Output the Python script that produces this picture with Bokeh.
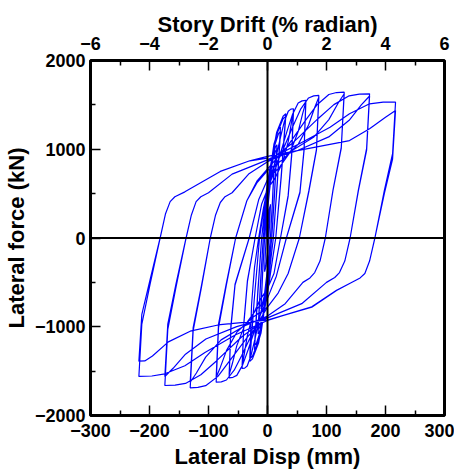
from bokeh.plotting import figure
from bokeh.models import LinearAxis, Range1d, FixedTicker, Span, ColumnDataSource
from bokeh.embed import file_html
from bokeh.resources import INLINE

# ---- data (lateral displacement in mm, lateral force in kN) ----
lvlA_disp = [0, 2.5, 5, 3.8, 2.2, 0, -2.5, -5, -3.8, -2.2, 0, 2.5, 5, 3.8, 2.2, 0, -2.5, -5]
lvlA_force = [0, 200, 380, 190, 0, -170, -320, -380, -190, 0, 170, 320, 370, 185, 0, -165, -315, -375]

lvlB_disp = [-3.75, -2.2, 0, 5.5, 9.4, 11, 8.25, 4.95, 0, -5.5, -9.35, -11, -8.25, -4.95, 0, 5.5, 9.35, 11, 8.25, 4.95, 0, -5.5, -9.35, -11]
lvlB_force = [-190, 0, 300, 680, 785, 800, 400, 0, -360, -680, -784, -800, -400, 0, 342, 646, 745, 760, 380, 0, -346, -655, -755, -770]

lvlC_disp = [-8.25, -4.95, 0, 8, 13.6, 16, 12, 7.2, 0, -8, -13.6, -16, -12, -7.2, 0, 8, 13.6, 16, 12, 7.2, 0, -8, -13.6, -16]
lvlC_force = [-385, 0, 450, 890, 1030, 1050, 525, 0, -486, -918, -1058, -1080, -540, 0, 450, 850, 980, 1000, 500, 0, -464, -876, -1009, -1030]

lvlD_disp = [-12, -7.2, 0, 11, 18.7, 22, 16.5, 9.9, 0, -11, -18.7, -22, -16.5, -9.9, 0, 11, 18.7, 22, 16.5, 9.9, 0, -11, -18.7, -22]
lvlD_force = [-515, 0, 560, 1060, 1225, 1250, 625, 0, -567, -1071, -1235, -1260, -630, 0, 540, 1020, 1176, 1200, 600, 0, -545, -1028, -1186, -1210]

lvlE_disp = [-16.5, -9.9, 0, 15.5, 26.4, 31, 23.25, 14, 0, -15, -25.5, -30, -22.5, -13.5, 0, 15.5, 26.4, 31, 23.25, 14, 0, -15, -25.5, -30]
lvlE_force = [-605, 0, 630, 1190, 1372, 1400, 700, 0, -625, -1180, -1362, -1390, -695, 0, 616, 1165, 1343, 1370, 685, 0, -612, -1156, -1333, -1360]

lvlF_disp = [-27, -22, -15, -7, 0,
             11, 22, 28.6, 35.2, 39.6, 44,
             41, 35, 22, 11, 0,
             -10.75, -21.5, -28, -34.4, -38.7, -43,
             -40, -34, -21, -10, 0,
             13.2, 26.4, 35.2, 40.5, 44,
             41, 35, 22, 11, 0,
             -12.9, -25.8, -34.4, -39.6, -43]
lvlF_force = [-750, -330, 0, 330, 560,
              811, 1133, 1313, 1429, 1452, 1456,
              950, 480, 0, -400, -570,
              -822, -1146, -1326, -1443, -1466, -1470,
              -960, -490, 0, 380, 550,
              680, 863, 1089, 1298, 1420,
              930, 470, 0, -400, -570,
              -700, -882, -1108, -1316, -1437]

lvlG_disp = [-40, -34, -21, -10, 0,
             16.25, 32.5, 42.25, 52, 58.5, 65,
             62, 55, 32, 15, 0,
             -16.25, -32.5, -42.25, -52, -58.5, -65,
             -62, -55, -31, -15, 0,
             19.5, 39, 52, 59.8, 65,
             62, 55, 32, 15, 0,
             -19.5, -39, -52, -59.8, -65]
lvlG_force = [-950, -480, 0, 380, 550,
              830, 1190, 1390, 1520, 1545, 1550,
              1000, 520, 0, -430, -680,
              -931, -1253, -1432, -1548, -1570, -1575,
              -1010, -530, 0, 430, 660,
              790, 973, 1199, 1408, 1530,
              990, 510, 0, -430, -680,
              -809, -990, -1213, -1420, -1540]

lvlH_disp = [-62, -55, -31, -15, 0,
             21.75, 43.5, 56.5, 69.6, 78.3, 87,
             83, 70, 54, 35, 18, 0,
             -21.75, -43.5, -56.5, -69.6, -78.3, -87,
             -83, -70, -54, -35, -18, 0,
             26.1, 52.2, 69.6, 80, 87,
             83, 70, 54, 35, 18, 0,
             -26.1, -52.2, -69.6, -80, -87]
lvlH_force = [-990, -520, 0, 430, 660,
              925, 1265, 1455, 1578, 1601, 1606,
              1000, 530, 0, -400, -620, -780,
              -1017, -1321, -1490, -1600, -1621, -1625,
              -1010, -540, 0, 420, 620, 760,
              884, 1058, 1273, 1471, 1587,
              990, 520, 0, -400, -620, -780,
              -898, -1064, -1269, -1458, -1568]

lvlI_disp = [-83, -70, -54, -35, -18, 0,
             32.5, 65, 84.5, 104, 117, 130,
             125, 111, 98, 89, 80, 72, 60, 30, 0,
             -32.75, -65.5, -84, -104.8, -118, -131,
             -126, -112, -97, -88, -80, -72, -60, -32, 0,
             39, 78, 104, 119.6, 130,
             125, 111, 98, 89, 80, 72, 60, 30, 0,
             -39.3, -78.6, -104.8, -120.5, -131]
lvlI_force = [-970, -520, 0, 420, 640, 780,
              1022, 1332, 1505, 1617, 1639, 1643,
              1020, 540, 0, -260, -390, -450, -500, -740, -880,
              -1106, -1397, -1559, -1664, -1684, -1688,
              -1045, -557, 0, 260, 400, 465, 510, 720, 860,
              975, 1135, 1334, 1518, 1625,
              1010, 536, 0, -260, -390, -450, -500, -740, -880,
              -992, -1148, -1342, -1521, -1625]

lvlJ_disp = [-126, -112, -97, -88, -80, -72, -60, -32, 0,
             43.25, 86.5, 112.5, 138.4, 155.7, 173,
             168, 154, 140, 131, 122, 114, 100, 58, 0,
             -43.5, -87, -113, -139, -156.6, -174,
             -169, -155, -138, -129, -121, -113, -100, -60, 0,
             51.9, 103.8, 138.4, 159, 173,
             168, 154, 140, 131, 122, 114, 100, 58, 0,
             -52.2, -104.4, -139, -160, -174]
lvlJ_force = [-1010, -540, 0, 260, 400, 465, 510, 720, 860,
              1074, 1350, 1503, 1602, 1621, 1625,
              1010, 540, 0, -260, -390, -445, -500, -740, -900,
              -1113, -1388, -1540, -1639, -1658, -1662,
              -1030, -550, 0, 260, 410, 465, 510, 720, 880,
              988, 1139, 1326, 1499, 1600,
              990, 530, 0, -260, -390, -445, -500, -740, -900,
              -999, -1138, -1309, -1468, -1560]

lvlK_disp = [-169, -155, -138, -129, -121, -113, -100, -60, 0,
             54, 106, 139, 173, 196, 217,
             212, 198, 182, 173, 165, 157, 140, 117, 75, 27, 0,
             -54, -106, -140, -174, -196, -218,
             -213, -199, -182, -173, -165, -157, -140, -80, -30, 0,
             66, 139, 173, 200, 217,
             212, 198, 182, 173, 165, 157, 140, 117, 75, 27, 0,
             -80, -131, -168, -195, -208, -218,
             -213, -199, -182, -173, -165, -157, -140, -80, -30, 0]
lvlK_force = [-970, -515, 0, 260, 410, 465, 510, 720, 880,
              1062, 1248, 1400, 1512, 1530, 1530,
              950, 535, 0, -260, -400, -450, -510, -591, -779, -873, -930,
              -1090, -1290, -1440, -1530, -1555, -1560,
              -970, -520, 0, 270, 410, 465, 520, 750, 870, 920,
              1005, 1098, 1230, 1360, 1437,
              890, 500, 0, -260, -400, -450, -510, -590, -775, -870, -925,
              -975, -1050, -1170, -1330, -1385, -1388,
              -860, -470, 0, 270, 410, 465, 520, 750, 870, 900]

disp_ticks = [-300, -200, -100, 0, 100, 200, 300]
disp_minor = [-250, -150, -50, 50, 150, 250]
force_ticks = [-2000, -1000, 0, 1000, 2000]
force_minor = [-1500, -500, 500, 1500]
drift_ticks = [-6, -4, -2, 0, 2, 4, 6]
drift_minor = [-5, -3, -1, 1, 3, 5]

disp_all = (lvlA_disp + lvlB_disp + lvlC_disp + lvlD_disp + lvlE_disp + lvlF_disp
            + lvlG_disp + lvlH_disp + lvlI_disp + lvlJ_disp + lvlK_disp)
force_all = (lvlA_force + lvlB_force + lvlC_force + lvlD_force + lvlE_force + lvlF_force
             + lvlG_force + lvlH_force + lvlI_force + lvlJ_force + lvlK_force)

FONT = "Liberation Sans"

p = figure(frame_width=354, frame_height=355,
           x_range=Range1d(-300, 300), y_range=Range1d(-2000, 2000),
           output_backend="svg", toolbar_location=None,
           min_border_left=83, min_border_right=10, min_border_top=60, min_border_bottom=46)
bottom_axis = p.below[0]
left_axis = p.left[0]
p.extra_x_ranges = {"drift": Range1d(-6, 6)}
top_axis = LinearAxis(x_range_name="drift")
p.add_layout(top_axis, "above")

p.xgrid.visible = False
p.ygrid.visible = False
p.outline_line_color = "black"
p.outline_line_width = 3
p.background_fill_color = "white"
p.border_fill_color = "white"

src = ColumnDataSource(dict(x=disp_all, y=force_all))
p.line("x", "y", source=src, line_color="#0000ff", line_width=1.2)

p.add_layout(Span(location=0, dimension="height", line_color="black", line_width=2))
p.add_layout(Span(location=0, dimension="width", line_color="black", line_width=2))

bottom_axis.ticker = FixedTicker(ticks=disp_ticks, minor_ticks=disp_minor)
left_axis.ticker = FixedTicker(ticks=force_ticks, minor_ticks=force_minor)
top_axis.ticker = FixedTicker(ticks=drift_ticks, minor_ticks=drift_minor)

bottom_axis.axis_label = "Lateral Disp (mm)"
left_axis.axis_label = "Lateral force (kN)"
top_axis.axis_label = "Story Drift (% radian)"

for ax in [bottom_axis, left_axis, top_axis]:
    ax.axis_line_color = None
    ax.major_tick_in = 10
    ax.major_tick_out = 0
    ax.minor_tick_in = 5
    ax.minor_tick_out = 0
    ax.major_tick_line_color = "black"
    ax.minor_tick_line_color = "black"
    ax.major_tick_line_width = 1.5
    ax.minor_tick_line_width = 1.5
    ax.major_label_text_font = FONT
    ax.major_label_text_font_style = "bold"
    ax.major_label_text_font_size = "18px"
    ax.major_label_text_color = "black"
    ax.major_label_standoff = 5
    ax.axis_label_text_font = FONT
    ax.axis_label_text_font_style = "bold"
    ax.axis_label_text_font_size = "22px"
    ax.axis_label_text_color = "black"
    ax.axis_label_standoff = 3

bottom_axis.major_label_standoff = 8
bottom_axis.axis_label_standoff = 4
top_axis.major_label_standoff = 11
top_axis.axis_label_standoff = -3

open("out.html", "w").write(file_html(p, INLINE))
